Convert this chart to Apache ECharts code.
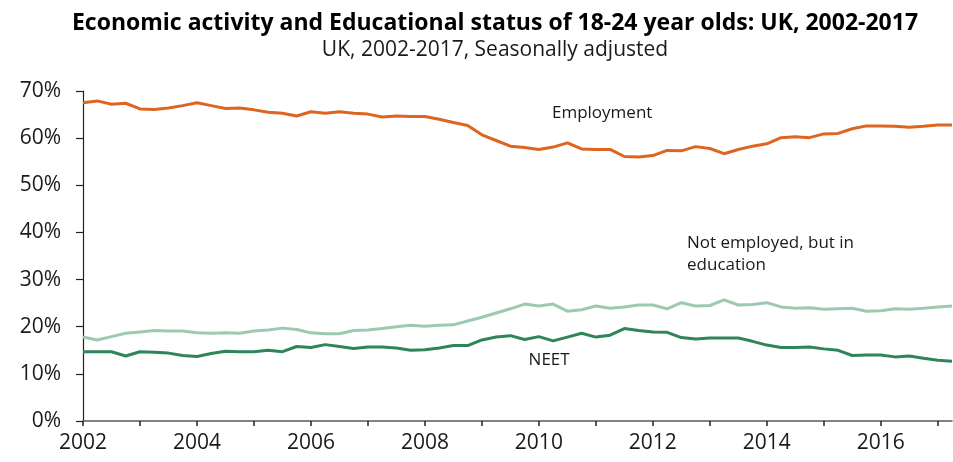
<!DOCTYPE html>
<html>
<head>
<meta charset="utf-8">
<script src="https://cdn.jsdelivr.net/npm/echarts@6/dist/echarts.min.js"></script>
<style>
  html, body { margin: 0; padding: 0; background: #ffffff; }
  #chart { width: 953px; height: 462px; }
</style>
</head>
<body>
<div id="chart"></div>
<script>
// Quarterly periods, 2002 Q1 .. 2017 Q2 (as decimal years)
const startYear = 2002;
const quarterCount = 62;
const periods = Array.from({ length: quarterCount }, (_, i) => startYear + i * 0.25);

const employment = [
  67.5, 67.9, 67.2, 67.4, 66.2, 66.1, 66.4, 66.9, 67.5, 66.9,
  66.3, 66.4, 66.0, 65.5, 65.3, 64.7, 65.6, 65.3, 65.6, 65.3,
  65.1, 64.5, 64.7, 64.6, 64.6, 64.0, 63.3, 62.7, 60.7, 59.5,
  58.3, 58.0, 57.6, 58.1, 59.0, 57.7, 57.6, 57.6, 56.1, 56.0,
  56.3, 57.4, 57.3, 58.2, 57.8, 56.7, 57.6, 58.3, 58.8, 60.1,
  60.3, 60.1, 60.9, 61.0, 62.0, 62.6, 62.6, 62.5, 62.3, 62.5,
  62.8, 62.8
];

const inEducation = [
  17.8, 17.2, 17.9, 18.6, 18.9, 19.2, 19.1, 19.1, 18.7, 18.6,
  18.7, 18.6, 19.1, 19.3, 19.7, 19.4, 18.7, 18.5, 18.5, 19.2,
  19.3, 19.6, 20.0, 20.3, 20.1, 20.3, 20.4, 21.2, 22.0, 22.9,
  23.8, 24.8, 24.4, 24.8, 23.3, 23.6, 24.4, 23.9, 24.2, 24.6,
  24.6, 23.8, 25.1, 24.4, 24.5, 25.7, 24.6, 24.7, 25.1, 24.2,
  23.9, 24.0, 23.7, 23.8, 23.9, 23.3, 23.4, 23.8, 23.7, 23.9,
  24.2, 24.4
];

const neet = [
  14.7, 14.7, 14.7, 13.8, 14.7, 14.6, 14.4, 13.9, 13.7, 14.3,
  14.8, 14.7, 14.7, 15.0, 14.7, 15.8, 15.6, 16.2, 15.8, 15.4,
  15.7, 15.7, 15.5, 15.0, 15.1, 15.5, 16.0, 16.0, 17.2, 17.8,
  18.1, 17.3, 17.9, 17.0, 17.8, 18.6, 17.8, 18.2, 19.6, 19.2,
  18.9, 18.8, 17.7, 17.4, 17.6, 17.6, 17.6, 16.9, 16.1, 15.6,
  15.6, 15.7, 15.3, 15.0, 13.9, 14.0, 14.0, 13.6, 13.8, 13.3,
  12.9, 12.7
];

const seriesNames = ['Employment', 'Not employed, but in education', 'NEET'];
const yTicks = [0, 10, 20, 30, 40, 50, 60, 70];
const xLabelYears = [2002, 2004, 2006, 2008, 2010, 2012, 2014, 2016];

// Annotation anchors in data space [year, percent]
const labelEmployment = [2010.23, 65.3];
const labelEducation = [2012.6, 35.3];
const labelNeet = [2009.82, 13.0];

const titleText = 'Economic activity and Educational status of 18-24 year olds: UK, 2002-2017';
const subtitleText = 'UK, 2002-2017, Seasonally adjusted';

const FONT = '"Open Sans", "Noto Sans", sans-serif';
const TEXT_COLOR = '#1a1a1a';

function pairs(vals) { return vals.map((v, i) => [periods[i], v]); }

function annot(coord, text) {
  return {
    silent: true,
    symbol: 'circle',
    symbolSize: 0,
    label: {
      show: true,
      position: 'inside',
      align: 'left',
      verticalAlign: 'middle',
      formatter: text,
      color: TEXT_COLOR,
      fontFamily: FONT,
      fontSize: 17,
      lineHeight: 22
    },
    data: [{ coord: coord }]
  };
}

const chart = echarts.init(document.getElementById('chart'), null, { renderer: 'canvas' });
chart.setOption({
  backgroundColor: '#ffffff',
  animation: false,
  title: [{
    text: titleText,
    left: 490,
    top: 7,
    textAlign: 'center',
    textStyle: { fontFamily: FONT, fontWeight: 'bold', fontSize: 23, color: '#000' }
  }, {
    text: subtitleText,
    left: 490,
    top: 35,
    textAlign: 'center',
    textStyle: { fontFamily: FONT, fontWeight: 'normal', fontSize: 21, color: TEXT_COLOR }
  }],
  grid: { left: 83, right: 1, top: 91, bottom: 41, containLabel: false },
  xAxis: {
    type: 'value',
    min: startYear,
    max: periods[periods.length - 1],
    interval: 1,
    axisLine: { show: true, lineStyle: { color: '#595959', width: 1.5 } },
    axisTick: { show: true, length: 5, lineStyle: { color: '#222', width: 1.5 } },
    splitLine: { show: false },
    axisLabel: {
      margin: 12,
      fontFamily: FONT,
      fontSize: 21,
      color: TEXT_COLOR,
      showMaxLabel: false,
      formatter: v => (xLabelYears.indexOf(Math.round(v)) >= 0 && Math.abs(v - Math.round(v)) < 1e-6) ? String(Math.round(v)) : ''
    }
  },
  yAxis: {
    type: 'value',
    min: yTicks[0],
    max: yTicks[yTicks.length - 1],
    interval: 10,
    axisLine: { show: true, lineStyle: { color: '#222', width: 1.2 } },
    axisTick: { show: true, length: 7, lineStyle: { color: '#222', width: 1.2 } },
    splitLine: { show: false },
    axisLabel: {
      margin: 22,
      fontFamily: FONT,
      fontSize: 21,
      color: TEXT_COLOR,
      formatter: '{value}%'
    }
  },
  series: [{
    name: seriesNames[0],
    type: 'line',
    data: pairs(employment),
    showSymbol: false,
    lineStyle: { color: '#DD6520', width: 3 },
    itemStyle: { color: '#DD6520' },
    markPoint: annot(labelEmployment, 'Employment'),
    z: 3
  }, {
    name: seriesNames[1],
    type: 'line',
    data: pairs(inEducation),
    showSymbol: false,
    lineStyle: { color: '#9CCAB0', width: 3 },
    itemStyle: { color: '#9CCAB0' },
    markPoint: annot(labelEducation, 'Not employed, but in\neducation'),
    z: 2
  }, {
    name: seriesNames[2],
    type: 'line',
    data: pairs(neet),
    showSymbol: false,
    lineStyle: { color: '#2F845A', width: 3 },
    itemStyle: { color: '#2F845A' },
    markPoint: annot(labelNeet, 'NEET'),
    z: 2
  }]
});
</script>
</body>
</html>
